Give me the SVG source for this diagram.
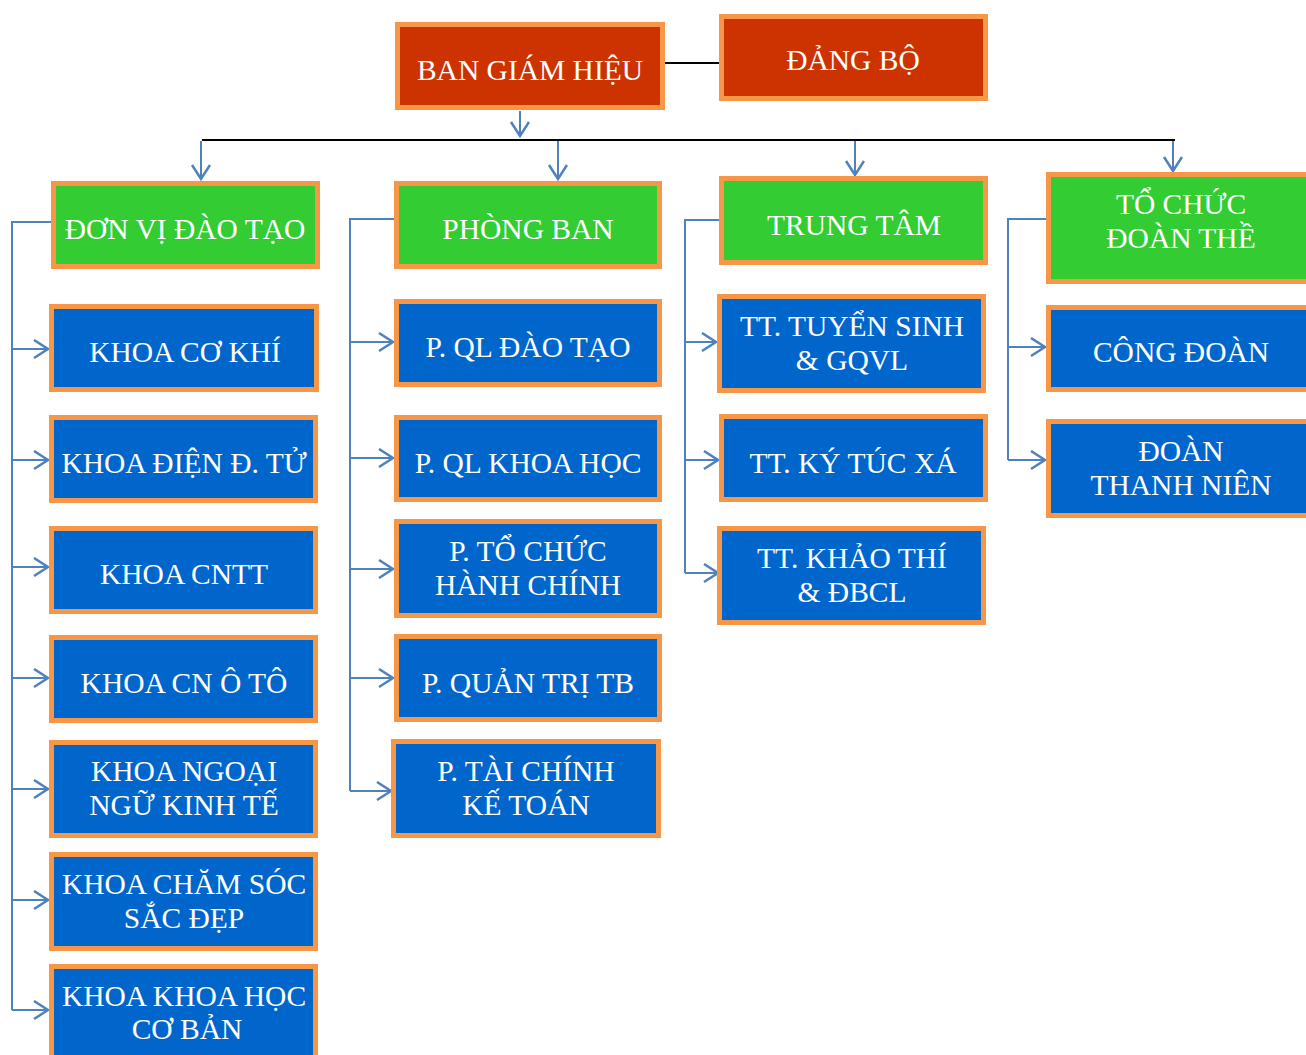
<svg xmlns="http://www.w3.org/2000/svg" width="1306" height="1055" viewBox="0 0 1306 1055">
<defs>
<style>
.red{fill:#CC3300;stroke:#F79646;stroke-width:5}
.grn{fill:#33CC33;stroke:#F79646;stroke-width:5}
.blu{fill:#0066CC;stroke:#F79646;stroke-width:5}
text{font-family:"Liberation Serif","Times New Roman",serif;font-size:29.5px;fill:#FFFFFF;text-anchor:middle}
.c{fill:none;stroke:#4F81BD;stroke-width:2}
.k{fill:none;stroke:#000000;stroke-width:2}
</style>
<marker id="arr" markerUnits="userSpaceOnUse" markerWidth="30" markerHeight="30" refX="15" refY="10" orient="auto">
<path d="M1,1 L15,10 L1,19" fill="none" stroke="#4F81BD" stroke-width="2.5"/>
</marker>
</defs>
<rect width="1306" height="1055" fill="#FFFFFF"/>
<g id="connectors">
<line class="k" x1="665" y1="63" x2="719" y2="63"/>
<line class="c" x1="520" y1="111" x2="520" y2="136" marker-end="url(#arr)"/>
<line class="k" x1="202" y1="140" x2="1175" y2="140"/>
<line class="c" x1="201" y1="141" x2="201" y2="179" marker-end="url(#arr)"/>
<line class="c" x1="558" y1="141" x2="558" y2="179" marker-end="url(#arr)"/>
<line class="c" x1="855" y1="141" x2="855" y2="175" marker-end="url(#arr)"/>
<line class="c" x1="1173" y1="141" x2="1173" y2="171" marker-end="url(#arr)"/>
<path class="c" d="M51,222 H12 V1010"/>
<line class="c" x1="12" y1="349" x2="48" y2="349" marker-end="url(#arr)"/>
<line class="c" x1="12" y1="460" x2="48" y2="460" marker-end="url(#arr)"/>
<line class="c" x1="12" y1="567" x2="48" y2="567" marker-end="url(#arr)"/>
<line class="c" x1="12" y1="678" x2="48" y2="678" marker-end="url(#arr)"/>
<line class="c" x1="12" y1="789" x2="48" y2="789" marker-end="url(#arr)"/>
<line class="c" x1="12" y1="900" x2="48" y2="900" marker-end="url(#arr)"/>
<line class="c" x1="12" y1="1010" x2="48" y2="1010" marker-end="url(#arr)"/>
<path class="c" d="M394,219 H350 V791"/>
<line class="c" x1="350" y1="342" x2="393" y2="342" marker-end="url(#arr)"/>
<line class="c" x1="350" y1="458" x2="393" y2="458" marker-end="url(#arr)"/>
<line class="c" x1="350" y1="569" x2="393" y2="569" marker-end="url(#arr)"/>
<line class="c" x1="350" y1="678" x2="393" y2="678" marker-end="url(#arr)"/>
<line class="c" x1="350" y1="791" x2="391" y2="791" marker-end="url(#arr)"/>
<path class="c" d="M719,220 H685 V573"/>
<line class="c" x1="685" y1="342" x2="716" y2="342" marker-end="url(#arr)"/>
<line class="c" x1="685" y1="460" x2="718" y2="460" marker-end="url(#arr)"/>
<line class="c" x1="685" y1="573" x2="718" y2="573" marker-end="url(#arr)"/>
<path class="c" d="M1046,219 H1008 V460"/>
<line class="c" x1="1008" y1="347" x2="1045" y2="347" marker-end="url(#arr)"/>
<line class="c" x1="1008" y1="460" x2="1045" y2="460" marker-end="url(#arr)"/>
</g>
<g id="bgh"><rect class="red" x="397.5" y="24.5" width="265" height="83"/><text x="530" y="80">BAN GIÁM HIỆU</text></g>
<g id="dangbo"><rect class="red" x="721.5" y="16.5" width="264" height="82"/><text x="853" y="70">ĐẢNG BỘ</text></g>
<g id="donvi"><rect class="grn" x="53.5" y="183.5" width="264" height="83"/><text x="185" y="238.5">ĐƠN VỊ ĐÀO TẠO</text></g>
<g id="phongban"><rect class="grn" x="396.5" y="183.5" width="263" height="83"/><text x="528" y="238.5">PHÒNG BAN</text></g>
<g id="trungtam"><rect class="grn" x="721.5" y="178.5" width="264" height="84"/><text x="854" y="234.5">TRUNG TÂM</text></g>
<g id="tochuc"><rect class="grn" x="1048.5" y="174.5" width="265" height="107"/><text x="1181" y="213.5">TỔ CHỨC</text><text x="1181" y="247.5">ĐOÀN THỀ</text></g>
<g id="cokhi"><rect class="blu" x="51.5" y="306.5" width="265" height="83"/><text x="185" y="361.5">KHOA CƠ KHÍ</text></g>
<g id="dientu"><rect class="blu" x="51.5" y="417.5" width="264" height="83"/><text x="184" y="472.5">KHOA ĐIỆN Đ. TỬ</text></g>
<g id="cntt"><rect class="blu" x="51.5" y="528.5" width="264" height="83"/><text x="184" y="583.5">KHOA CNTT</text></g>
<g id="oto"><rect class="blu" x="51.5" y="637.5" width="264" height="83"/><text x="184" y="692.5">KHOA CN Ô TÔ</text></g>
<g id="ngoaingu"><rect class="blu" x="51.5" y="742.5" width="264" height="93"/><text x="184" y="780.5">KHOA NGOẠI</text><text x="184" y="814.5">NGỮ KINH TẾ</text></g>
<g id="chamsoc"><rect class="blu" x="51.5" y="854.5" width="264" height="94"/><text x="184" y="893.5">KHOA CHĂM SÓC</text><text x="184" y="927.5">SẮC ĐẸP</text></g>
<g id="khcb"><rect class="blu" x="51.5" y="966.5" width="264" height="100"/><text x="184" y="1005.5">KHOA KHOA HỌC</text><text x="187" y="1038.5">CƠ BẢN</text></g>
<g id="qldaotao"><rect class="blu" x="396.5" y="301.5" width="263" height="83"/><text x="528" y="356.5">P. QL ĐÀO TẠO</text></g>
<g id="qlkhoahoc"><rect class="blu" x="396.5" y="417.5" width="263" height="82"/><text x="528" y="472.5">P. QL KHOA HỌC</text></g>
<g id="tochuchc"><rect class="blu" x="396.5" y="521.5" width="263" height="94"/><text x="528" y="560.5">P. TỔ CHỨC</text><text x="528" y="594.5">HÀNH CHÍNH</text></g>
<g id="quantri"><rect class="blu" x="396.5" y="636.5" width="263" height="83"/><text x="528" y="692.5">P. QUẢN TRỊ TB</text></g>
<g id="taichinh"><rect class="blu" x="393.5" y="741.5" width="265" height="94"/><text x="526" y="780.5">P. TÀI CHÍNH</text><text x="526" y="814.5">KẾ TOÁN</text></g>
<g id="tuyensinh"><rect class="blu" x="719.5" y="296.5" width="264" height="94"/><text x="852" y="335.5">TT. TUYỂN SINH</text><text x="852" y="369.5">&amp; GQVL</text></g>
<g id="ktx"><rect class="blu" x="721.5" y="416.5" width="264" height="83"/><text x="853" y="472.5">TT. KÝ TÚC XÁ</text></g>
<g id="khaothi"><rect class="blu" x="719.5" y="528.5" width="264" height="94"/><text x="852" y="567.5">TT. KHẢO THÍ</text><text x="852" y="601.5">&amp; ĐBCL</text></g>
<g id="congdoan"><rect class="blu" x="1048.5" y="307.5" width="265" height="82"/><text x="1181" y="361.5">CÔNG ĐOÀN</text></g>
<g id="doanthanhnien"><rect class="blu" x="1048.5" y="421.5" width="265" height="94"/><text x="1181" y="460.5">ĐOÀN</text><text x="1181" y="494.5">THANH NIÊN</text></g>
</svg>
